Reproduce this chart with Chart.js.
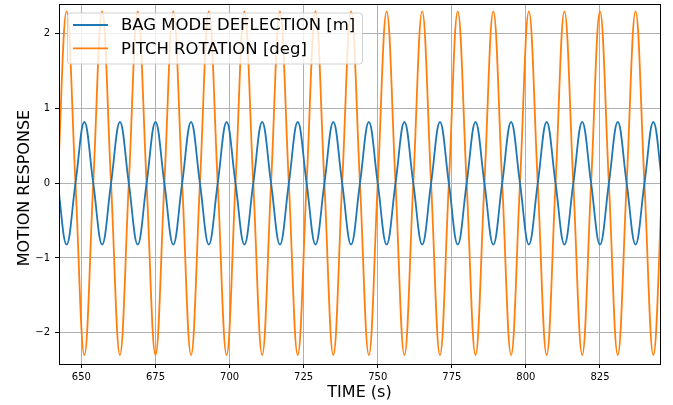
<!DOCTYPE html>
<html>
<head>
<meta charset="utf-8">
<title>Motion response</title>
<script src="https://cdn.jsdelivr.net/npm/chart.js@4/dist/chart.umd.min.js"></script>
<style>
  html, body { margin: 0; padding: 0; background: #fff; }
  #wrap { width: 673px; height: 405px; }
</style>
</head>
<body>
<div id="wrap"><canvas id="chart" width="673" height="405"></canvas></div>
<script>
// Sample times (s): zero crossings, peaks and troughs of both signals
const time = [
    642, 645, 648, 651,
    654, 657, 660, 663,
    666, 669, 672, 675,
    678, 681, 684, 687,
    690, 693, 696, 699,
    702, 705, 708, 711,
    714, 717, 720, 723,
    726, 729, 732, 735,
    738, 741, 744, 747,
    750, 753, 756, 759,
    762, 765, 768, 771,
    774, 777, 780, 783,
    786, 789, 792, 795,
    798, 801, 804, 807,
    810, 813, 816, 819,
    822, 825, 828, 831,
    834, 837, 840, 843,
    846
];

// Bag mode deflection [m]
const bagDeflection = [
    0, -0.82, 0, 0.82,
    0, -0.82, 0, 0.82,
    0, -0.82, 0, 0.82,
    0, -0.82, 0, 0.82,
    0, -0.82, 0, 0.82,
    0, -0.82, 0, 0.82,
    0, -0.82, 0, 0.82,
    0, -0.82, 0, 0.82,
    0, -0.82, 0, 0.82,
    0, -0.82, 0, 0.82,
    0, -0.82, 0, 0.82,
    0, -0.82, 0, 0.82,
    0, -0.82, 0, 0.82,
    0, -0.82, 0, 0.82,
    0, -0.82, 0, 0.82,
    0, -0.82, 0, 0.82,
    0, -0.82, 0, 0.82,
    0
];

// Pitch rotation [deg]
const pitchRotation = [
    0, 2.3, 0, -2.3,
    0, 2.3, 0, -2.3,
    0, 2.3, 0, -2.3,
    0, 2.3, 0, -2.3,
    0, 2.3, 0, -2.3,
    0, 2.3, 0, -2.3,
    0, 2.3, 0, -2.3,
    0, 2.3, 0, -2.3,
    0, 2.3, 0, -2.3,
    0, 2.3, 0, -2.3,
    0, 2.3, 0, -2.3,
    0, 2.3, 0, -2.3,
    0, 2.3, 0, -2.3,
    0, 2.3, 0, -2.3,
    0, 2.3, 0, -2.3,
    0, 2.3, 0, -2.3,
    0, 2.3, 0, -2.3,
    0
];

const seriesLabels = ['BAG MODE DEFLECTION [m]', 'PITCH ROTATION [deg]'];
const seriesColors = ['#1f77b4', '#ff7f0e'];
const xTicks = [650, 675, 700, 725, 750, 775, 800, 825];
const yTicks = [-2, -1, 0, 1, 2];
const yTitle = 'MOTION RESPONSE';

const FONT = "'DejaVu Sans', sans-serif";
const LINE_W = 1.8;

function toPoints(values) {
    return values.map((v, i) => ({ x: time[i], y: v }));
}

function fmtTick(v) {
    return v < 0 ? '\u2212' + Math.abs(v) : String(v);
}

// Box around the plotting area, drawn over the curves
const frame = {
    id: 'frame',
    afterDatasetsDraw(chart) {
        const { ctx, chartArea: a } = chart;
        ctx.save();
        ctx.strokeStyle = '#000';
        ctx.lineWidth = 1;
        ctx.strokeRect(a.left + 0.5, a.top + 0.5, a.right - a.left, a.bottom - a.top);
        ctx.restore();
    }
};

// Vertical axis title, a bit below the middle of the plot
const sideTitle = {
    id: 'sideTitle',
    afterDraw(chart) {
        const { ctx } = chart;
        ctx.save();
        ctx.translate(25, 188);
        ctx.rotate(-Math.PI / 2);
        ctx.font = '16px ' + FONT;
        ctx.fillStyle = '#000';
        ctx.textAlign = 'center';
        ctx.textBaseline = 'middle';
        ctx.fillText(yTitle, 0, 0);
        ctx.restore();
    }
};

// Legend box in the upper left corner of the plot
const insideLegend = {
    id: 'insideLegend',
    afterDraw(chart) {
        const { ctx, chartArea: a } = chart;
        const x = a.left + 8, y = a.top + 8.5, w = 295, h = 51;
        ctx.save();
        ctx.beginPath();
        ctx.roundRect(x + 0.5, y + 0.5, w, h, 3);
        ctx.fillStyle = 'rgba(255,255,255,0.8)';
        ctx.fill();
        ctx.strokeStyle = 'rgba(204,204,204,0.9)';
        ctx.lineWidth = 1;
        ctx.stroke();
        ctx.font = '16.5px ' + FONT;
        ctx.textBaseline = 'middle';
        chart.data.datasets.forEach((ds, i) => {
            const cy = y + 12.5 + i * 23.3;
            ctx.strokeStyle = ds.borderColor;
            ctx.lineWidth = LINE_W;
            ctx.beginPath();
            ctx.moveTo(x + 6, cy);
            ctx.lineTo(x + 41, cy);
            ctx.stroke();
            ctx.fillStyle = '#000';
            ctx.fillText(ds.label, x + 54, cy + 1);
        });
        ctx.restore();
    }
};

new Chart(document.getElementById('chart'), {
    type: 'line',
    data: {
        datasets: [
            {
                label: seriesLabels[0],
                data: toPoints(bagDeflection),
                borderColor: seriesColors[0],
                borderWidth: LINE_W,
                pointRadius: 0,
                tension: 0.4,
                clip: 0
            },
            {
                label: seriesLabels[1],
                data: toPoints(pitchRotation),
                borderColor: seriesColors[1],
                borderWidth: LINE_W,
                pointRadius: 0,
                tension: 0.4,
                clip: 0
            }
        ]
    },
    options: {
        responsive: false,
        devicePixelRatio: 1,
        animation: false,
        events: [],
        layout: {
            padding: { top: 4, right: 13, left: 0, bottom: 0 }
        },
        plugins: {
            legend: { display: false },
            tooltip: { enabled: false }
        },
        scales: {
            x: {
                type: 'linear',
                min: 642.44,
                max: 845.25,
                afterBuildTicks: scale => {
                    scale.ticks = xTicks.map(v => ({ value: v }));
                },
                afterFit: scale => {
                    scale.height = 41;
                },
                ticks: {
                    color: '#000',
                    font: { family: FONT, size: 10 },
                    padding: 3,
                    maxRotation: 0,
                    callback: fmtTick
                },
                grid: {
                    color: '#b0b0b0',
                    lineWidth: 1,
                    tickColor: '#000',
                    tickLength: 4
                },
                border: { display: false },
                title: {
                    display: true,
                    text: 'TIME (s)',
                    color: '#000',
                    font: { family: FONT, size: 16 },
                    padding: { top: 0, bottom: 3 }
                }
            },
            y: {
                min: -2.42,
                max: 2.4,
                afterBuildTicks: scale => {
                    scale.ticks = yTicks.map(v => ({ value: v }));
                },
                afterFit: scale => {
                    scale.width = 59;
                    scale.paddingTop = 0;
                    scale.paddingBottom = 0;
                },
                ticks: {
                    color: '#000',
                    font: { family: FONT, size: 10 },
                    padding: 5,
                    callback: fmtTick
                },
                grid: {
                    color: '#b0b0b0',
                    lineWidth: 1,
                    tickColor: '#000',
                    tickLength: 4
                },
                border: { display: false }
            }
        }
    },
    plugins: [frame, sideTitle, insideLegend]
});
</script>
</body>
</html>
